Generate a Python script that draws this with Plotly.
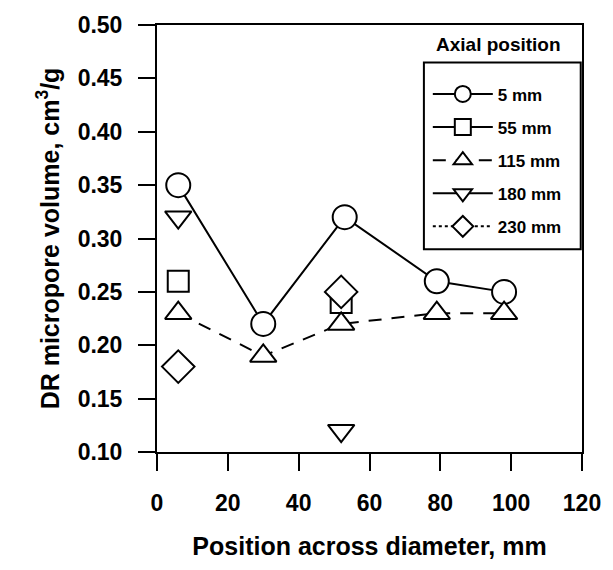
import plotly.graph_objects as go

# Data (position across diameter, mm ; DR micropore volume, cm3/g)
x_5mm = [6, 30, 53, 79, 98]
y_5mm = [0.35, 0.22, 0.32, 0.26, 0.25]

x_55mm = [6, 52]
y_55mm = [0.26, 0.24]

x_115mm = [6, 30, 52, 79, 98]
y_115mm = [0.23, 0.19, 0.22, 0.23, 0.23]

x_180mm = [6, 52]
y_180mm = [0.32, 0.12]

x_230mm = [6, 52]
y_230mm = [0.18, 0.25]

x_ticks = [0, 20, 40, 60, 80, 100, 120]
y_ticks = [0.10, 0.15, 0.20, 0.25, 0.30, 0.35, 0.40, 0.45, 0.50]

FONT = "Liberation Sans, Arial, sans-serif"


def gapped(xs, ys):
    """Insert gaps so that unconnected points still get a legend line stub."""
    gx, gy = [], []
    for i, (a, b) in enumerate(zip(xs, ys)):
        if i:
            gx.append(None)
            gy.append(None)
        gx.append(a)
        gy.append(b)
    return gx, gy


fig = go.Figure()

def add(name, xs, ys, symbol, size, dash, connect, group):
    if not connect:
        xs, ys = gapped(xs, ys)
    fig.add_trace(go.Scatter(
        x=xs, y=ys, name=name, mode="lines+markers",
        connectgaps=False, legendgroup=group,
        line=dict(color="black", width=2, dash=dash),
        marker=dict(symbol=symbol, size=size, color="white",
                    line=dict(color="black", width=2)),
    ))

add("5 mm", x_5mm, y_5mm, "circle", 24, "solid", True, "a")
add("55 mm", x_55mm, y_55mm, "square", 21, "solid", False, "b")
add("115 mm", x_115mm, y_115mm, "triangle-up", 23, "13px,10px", True, "c")
add("180 mm", x_180mm, y_180mm, "triangle-down", 23, "solid", False, "d")
add("230 mm", x_230mm, y_230mm, "diamond", 25, "dot", False, "e")

axis_common = dict(
    showline=True, linecolor="black", linewidth=2, mirror=True,
    ticks="outside", ticklen=17, tickwidth=2, tickcolor="black",
    showgrid=False, zeroline=False,
    tickfont=dict(family=FONT, size=23, color="black", weight="bold"),
)

fig.update_xaxes(
    range=[0, 120], tickvals=x_ticks, ticktext=[str(v) for v in x_ticks],
    title=dict(text="Position across diameter, mm", standoff=23,
               font=dict(family=FONT, size=25, color="black", weight="bold")),
    ticklabelstandoff=12,
    **axis_common,
)
fig.update_yaxes(
    range=[0.10, 0.50], tickvals=y_ticks, ticktext=[f"{v:.2f}" for v in y_ticks],
    title=dict(text="DR micropore volume, cm<sup>3</sup>/g", standoff=11,
               font=dict(family=FONT, size=25, color="black", weight="bold")),
    ticklabelstandoff=11,
    **axis_common,
)

# Legend frame and heading
fig.add_shape(type="rect", xref="paper", yref="paper",
              x0=0.628, x1=0.997, y0=(452 - 247) / 432, y1=(452 - 58) / 432,
              line=dict(color="black", width=2), fillcolor="rgba(0,0,0,0)",
              layer="above")
fig.add_annotation(text="Axial position", xref="paper", yref="paper",
                   x=(503 - 157) / 430, y=(452 - 40) / 432,
                   showarrow=False, xanchor="center", yanchor="middle",
                   font=dict(family=FONT, size=19, color="black", weight="bold"))

fig.update_layout(
    width=613, height=570,
    margin=dict(l=157, r=26, t=20, b=118),
    paper_bgcolor="white", plot_bgcolor="white",
    showlegend=True,
    legend=dict(
        x=(431 - 157) / 430, y=(452 - 72) / 432, xanchor="left", yanchor="top",
        bgcolor="rgba(0,0,0,0)", borderwidth=0,
        traceorder="grouped", tracegroupgap=8, itemwidth=60,
        font=dict(family=FONT, size=17, color="black", weight="bold"),
    ),
)

fig.write_html("out.html")
